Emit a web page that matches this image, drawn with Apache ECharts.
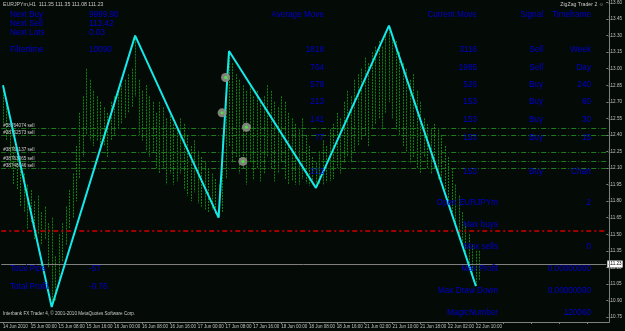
<!DOCTYPE html>
<html>
<head>
<meta charset="utf-8">
<script src="https://cdn.jsdelivr.net/npm/echarts@6/dist/echarts.min.js"></script>
<style>
html,body{margin:0;padding:0;background:#040a06;}
#main{width:625px;height:331px;}
</style>
</head>
<body>
<div id="main"></div>
<script>
// x axis labels, one every 8 H1 bars
var tickLabels = ['14 Jun 2010','15 Jun 00:00','15 Jun 08:00','15 Jun 16:00','16 Jun 00:00','16 Jun 08:00','16 Jun 16:00',
	'17 Jun 00:00','17 Jun 08:00','17 Jun 16:00','18 Jun 00:00','18 Jun 08:00','18 Jun 16:00',
	'21 Jun 02:00','21 Jun 10:00','21 Jun 18:00','22 Jun 02:00','22 Jun 10:00'];
var slotCount = 174; // bars + chart shift

// EURJPYm H1 bars, high / low
var barHigh = [112.85,112.70,112.45,112.30,112.20,112.10,112.05,111.95,111.90,111.80,
	111.85,111.70,111.75,111.60,111.65,111.30,111.50,111.60,111.75,111.90,
	112.05,112.30,112.60,112.75,113.00,112.90,112.80,112.75,112.70,112.65,
	112.60,112.70,112.75,112.80,112.85,112.90,112.95,113.00,113.30,112.90,
	112.80,112.85,112.75,112.70,112.60,112.70,112.65,112.55,112.60,112.50,
	112.45,112.55,112.50,112.40,112.30,112.35,112.25,112.20,112.15,112.10,
	112.05,112.00,111.95,112.40,112.90,113.16,113.05,112.95,112.90,112.85,
	112.80,112.85,112.75,112.80,112.70,112.75,112.85,112.80,112.70,112.65,
	112.75,112.70,112.60,112.55,112.50,112.45,112.55,112.40,112.30,112.20,
	112.15,112.25,112.35,112.30,112.45,112.50,112.60,112.55,112.70,112.80,
	112.75,112.90,112.95,113.00,113.10,113.05,113.15,113.20,113.25,113.20,
	113.30,113.39,113.30,113.25,113.15,113.05,113.00,112.90,112.95,112.80,
	112.70,112.55,112.50,112.45,112.50,112.45,112.40,112.30,112.20,112.10,
	111.95,111.85,111.70,111.60,111.50,111.40,111.35,111.35];
var barLow = [112.50,112.35,112.10,111.95,111.90,111.75,111.70,111.55,111.60,111.45,
	111.50,111.40,111.45,111.20,110.84,110.90,111.05,111.25,111.40,111.55,
	111.65,111.80,112.00,112.20,112.40,112.35,112.30,112.35,112.25,112.30,
	112.20,112.35,112.40,112.45,112.50,112.55,112.60,112.65,112.75,112.40,
	112.35,112.25,112.20,112.25,112.10,112.05,112.10,111.95,112.05,111.95,
	111.98,112.05,111.90,111.85,111.80,111.88,111.78,111.75,111.72,111.70,
	111.72,111.68,111.65,111.70,112.00,112.30,112.15,112.20,112.05,112.10,
	111.95,112.15,112.00,112.10,111.98,112.05,112.20,112.10,111.98,112.05,
	112.15,112.00,111.95,111.98,111.95,111.95,112.00,111.96,111.94,111.95,
	111.92,111.96,111.95,111.97,111.98,112.00,112.10,112.05,112.15,112.20,
	112.15,112.25,112.30,112.35,112.40,112.30,112.45,112.50,112.55,112.45,
	112.60,112.70,112.55,112.45,112.40,112.30,112.25,112.15,112.20,112.10,
	112.05,112.20,112.10,112.05,112.10,112.00,112.00,111.90,111.80,111.70,
	111.60,111.50,111.40,111.30,111.20,111.10,111.03,111.08];

// zigzag turning points [bar, price]
var zigzag = [[0,112.85],[14,110.84],[38,113.30],[62,111.65],[65,113.16],[90,111.92],[111,113.39],[136,111.03]];

// open orders
var orderPrices = [112.46,112.40,112.24,112.16,112.10];
var orderNames = ['#38764074 sell','#38752573 sell','#38768137 sell','#38763365 sell','#38748646 sell'];
var orderMarks = [[64,112.92],[63,112.60],[70,112.47],[69,112.16]];
var redLevel = 111.53;
var bidPrice = 111.23;

// info panel
var timeframes = ['Week','Day','240','60','30','15','Chart'];
var averageMove = ['1818','764','578','213','141','77','213'];
var currentMove = ['3116','1985','526','153','153','153','153'];
var signals = ['Sell','Sell','Buy','Buy','Buy','Buy','Buy'];
var leftTop = [['Next Buy','9999.90'],['Next Sell','113.42'],['Next Lots','0.03'],['Filtertime','10090']];
var leftBottom = [['Total Pips','-57'],['Total Profit','-0.76']];
var rightBottom = [['Open EURJPYm','2'],['Max buys',''],['Max sells','0'],['Max Profit','0.00000000'],['Max Draw Down','0.00000000'],['MagicNumber','120060']];

var slots = [];
for (var i = 0; i < slotCount; i++) slots.push(String(i));

var blue = '#0000d0';
var font = 'Liberation Sans';
var fs = 8.2;

function txt(x, y, s, align, opt){
	var st = {text:s, x:x, y:y, fill:blue, font:fs+'px "'+font+'"', textAlign:align||'left', textVerticalAlign:'middle'};
	if (opt) for (var k in opt) st[k] = opt[k];
	return {type:'text', z:100, style:st};
}
function each(arr, fn){ for (var j = 0; j < arr.length; j++) fn(j, arr[j]); }

var graphics = [];
// frame
graphics.push({type:'line', z:50, shape:{x1:609.5,y1:0,x2:609.5,y2:322.5}, style:{stroke:'#808080',lineWidth:1}});
graphics.push({type:'line', z:50, shape:{x1:0,y1:322.5,x2:609.5,y2:322.5}, style:{stroke:'#808080',lineWidth:1}});
// small white captions
var small = {fill:'#c8c8c8', font:'5.2px "'+font+'"'};
graphics.push(txt(3, 4.5, 'EURJPYm,H1  111.35 111.35 111.08 111.23', 'left', small));
graphics.push(txt(604, 5, 'ZigZag Trader 2 \u263A', 'right', small));
graphics.push(txt(3, 314, 'Interbank FX Trader 4, \u00A9 2001-2010 MetaQuotes Software Corp.', 'left', {fill:'#c8c8c8', font:'4.6px "'+font+'"'}));

var ltY = [15,24,33,50];
each(leftTop, function(i, r){ graphics.push(txt(10, ltY[i], r[0])); graphics.push(txt(89, ltY[i], r[1])); });
var lbY = [269,287];
each(leftBottom, function(i, r){ graphics.push(txt(10, lbY[i], r[0])); graphics.push(txt(89, lbY[i], r[1])); });

graphics.push(txt(324, 15, 'Average Move', 'right'));
graphics.push(txt(477, 15, 'Current Move', 'right'));
graphics.push(txt(543, 15, 'Signal', 'right'));
graphics.push(txt(591, 15, 'Timeframe', 'right'));
var rowY = [50,68,85,102,120,138,172];
each(timeframes, function(i, t){
	graphics.push(txt(324, rowY[i], averageMove[i], 'right'));
	graphics.push(txt(477, rowY[i], currentMove[i], 'right'));
	graphics.push(txt(543, rowY[i], signals[i], 'right'));
	graphics.push(txt(591, rowY[i], t, 'right'));
});
var rbY = [203,225,247,269,291,313];
each(rightBottom, function(i, r){
	graphics.push(txt(498, rbY[i], r[0], 'right'));
	if (r[1] !== '') graphics.push(txt(591, rbY[i], r[1], 'right'));
});

var orderLineData = [];
each(orderPrices, function(i, p){
	orderLineData.push({yAxis:p, name:orderNames[i],
		lineStyle:{color:'#1f7a1f', type:[5,2,1,2], width:1},
		label:{show:true, position:'insideStartTop', formatter:'{b}', color:'#d0d0d0', fontSize:4.6, fontFamily:font, distance:[2,0]}});
});
orderLineData.push({yAxis:redLevel, lineStyle:{color:'#a00000', type:[5,3,2,3], width:2}, label:{show:false}});
orderLineData.push({yAxis:bidPrice, lineStyle:{color:'#808080', type:'solid', width:1},
	label:{show:true, position:'end', formatter:bidPrice.toFixed(2), color:'#000', backgroundColor:'#ffffff', fontSize:4.6, fontFamily:font, padding:[1,1], distance:1}});

var chart = echarts.init(document.getElementById('main'), null, {renderer:'canvas'});
var option = {
	backgroundColor:'#040a06',
	animation:false,
	grid:{left:0, right:16, top:1, bottom:14},
	xAxis:{
		type:'category', data:slots, boundaryGap:true, offset:5,
		axisLine:{show:false},
		axisTick:{show:true, interval:7, alignWithLabel:true, length:2, lineStyle:{color:'#808080'}},
		axisLabel:{interval:7, align:'left', margin:2, fontSize:4.5, color:'#c0c0c0', fontFamily:font,
			formatter:function(v, idx){ return tickLabels[idx/8] || ''; }},
		splitLine:{show:false}
	},
	yAxis:{
		type:'value', position:'right', min:110.75, max:113.60, interval:0.15,
		axisLine:{show:false},
		axisTick:{show:true, length:2, lineStyle:{color:'#808080'}},
		axisLabel:{fontSize:4.6, color:'#c0c0c0', margin:2, fontFamily:font, formatter:function(v){ return v.toFixed(2); }},
		splitLine:{show:false}
	},
	graphic:graphics,
	series:[
		{
			type:'custom', name:'bars',
			data:barHigh.map(function(h, i){ return [i, h, barLow[i]]; }),
			encode:{x:0, y:[1,2]},
			renderItem:function(params, api){
				var hi = api.coord([api.value(0), api.value(1)]);
				var lo = api.coord([api.value(0), api.value(2)]);
				var x = Math.round(hi[0]) + 0.5;
				return {type:'line', shape:{x1:x, y1:hi[1], x2:x, y2:lo[1]}, style:{stroke:'#10820f', lineWidth:1, lineDash:[2,1]}};
			},
			z:2
		},
		{
			type:'line', name:'zigzag', data:zigzag, symbol:'none',
			lineStyle:{color:'#14e8e8', width:2}, z:5,
			markLine:{symbol:'none', silent:true, data:orderLineData}
		},
		{
			type:'scatter', data:orderMarks, symbolSize:9,
			itemStyle:{color:'#8e8e84', opacity:0.9}, z:6
		},
		{
			type:'scatter', data:orderMarks, symbolSize:3,
			itemStyle:{color:'#3cff3c'}, z:7
		}
	]
};
chart.setOption(option, true);
</script>
</body>
</html>
